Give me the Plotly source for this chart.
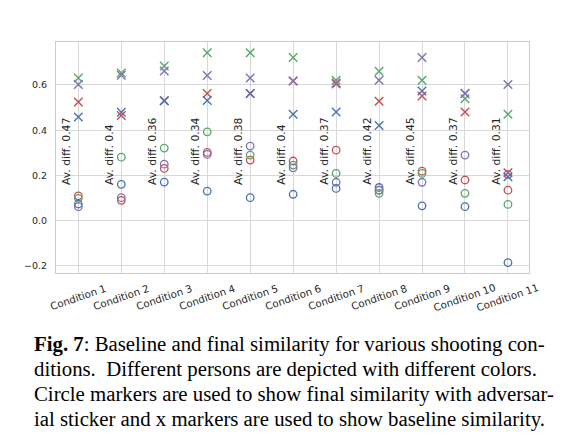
import plotly.graph_objects as go

# Data
conditions = ["Condition %d" % i for i in range(1, 12)]
avg_diff = ["0.47", "0.4", "0.36", "0.34", "0.38", "0.4", "0.37", "0.42", "0.45", "0.37", "0.31"]

# baseline similarity (x markers), one list per person
base_red = [0.525, 0.465, 0.530, 0.562, 0.562, 0.618, 0.609, 0.528, 0.551, 0.481, 0.212]
base_blue = [0.459, 0.479, 0.530, 0.531, 0.562, 0.471, 0.481, 0.421, 0.573, 0.562, 0.194]
base_green = [0.631, 0.653, 0.684, 0.742, 0.742, 0.721, 0.621, 0.661, 0.621, 0.539, 0.471]
base_purple = [0.602, 0.643, 0.662, 0.642, 0.631, 0.618, 0.604, 0.621, 0.721, 0.562, 0.602]

# final similarity with adversarial sticker (circle markers)
final_red = [0.110, 0.090, 0.231, 0.302, 0.268, 0.264, 0.312, 0.135, 0.219, 0.180, 0.135]
final_blue = [0.074, 0.161, 0.171, 0.131, 0.102, 0.117, 0.143, 0.147, 0.066, 0.062, -0.185]
final_green = [0.099, 0.281, 0.321, 0.393, 0.290, 0.246, 0.209, 0.121, 0.209, 0.121, 0.072]
final_purple = [0.062, 0.102, 0.250, 0.293, 0.330, 0.234, 0.170, 0.135, 0.170, 0.290, 0.205]

caption_lines = [
    "<b>Fig. 7</b>: Baseline and final similarity for various shooting con-",
    "ditions.  Different persons are depicted with different colors.",
    "Circle markers are used to show final similarity with adversar-",
    "ial sticker and x markers are used to show baseline similarity.",
]

colors = {"red": "#C44E52", "blue": "#4C72B0", "green": "#55A868", "purple": "#8172B2"}
persons = [
    ("red", base_red, final_red),
    ("blue", base_blue, final_blue),
    ("green", base_green, final_green),
    ("purple", base_purple, final_purple),
]

fig = go.Figure()

for name, base, final in persons:
    fig.add_trace(go.Scatter(
        x=conditions, y=final, mode="markers",
        marker=dict(symbol="circle-open", size=7.5, color=colors[name],
                    line=dict(width=1.3, color=colors[name])),
        showlegend=False,
    ))
for name, base, final in persons:
    fig.add_trace(go.Scatter(
        x=conditions, y=base, mode="markers",
        marker=dict(symbol="x-thin-open", size=8.5, color=colors[name],
                    line=dict(width=1.4, color=colors[name])),
        showlegend=False,
    ))

annotations = []
# "Av. diff." labels, rotated, left of each condition
for i, d in enumerate(avg_diff):
    annotations.append(dict(
        x=i - 0.27, y=0.15, xref="x", yref="y",
        text="Av. diff. " + d, textangle=-90, showarrow=False,
        xanchor="center", yanchor="bottom",
        font=dict(family="DejaVu Sans", size=10.8, color="#262626"),
    ))

# slanted x tick labels, centred on the tick
for c in conditions:
    annotations.append(dict(
        x=c, y=-0.105, xref="x", yref="paper",
        text=c, textangle=-19, showarrow=False,
        xanchor="center", yanchor="middle",
        font=dict(family="DejaVu Sans", size=10.2, color="#262626"),
    ))

# caption below the chart
caption_y = [-0.307, -0.416, -0.524, -0.630]
for line, yy in zip(caption_lines, caption_y):
    annotations.append(dict(
        x=-0.0507, y=yy, xref="paper", yref="paper",
        text=line, showarrow=False, xanchor="left", yanchor="middle",
        font=dict(family="Liberation Serif", size=20.8, color="black"),
    ))

# page has an 8px body margin, so the figure is 8px smaller each way
fig.update_layout(
    width=574, height=435,
    margin=dict(l=48, r=53, t=34, b=170),
    paper_bgcolor="white", plot_bgcolor="white",
    annotations=annotations,
    xaxis=dict(
        type="category", range=[-0.52, 10.49],
        showticklabels=False, ticks="",
        showgrid=True, gridcolor="#d8d8d8", gridwidth=1,
        showline=True, linecolor="#cccccc", linewidth=1, mirror=True,
        zeroline=False,
    ),
    yaxis=dict(
        range=[-0.231, 0.79],
        tickvals=[-0.2, 0.0, 0.2, 0.4, 0.6], tickformat=".1f",
        tickfont=dict(family="DejaVu Sans", size=9.5, color="#262626"),
        ticks="", ticklabelstandoff=6,
        showgrid=True, gridcolor="#d8d8d8", gridwidth=1,
        showline=True, linecolor="#cccccc", linewidth=1, mirror=True,
        zeroline=False,
    ),
)

fig.write_html("out.html")
